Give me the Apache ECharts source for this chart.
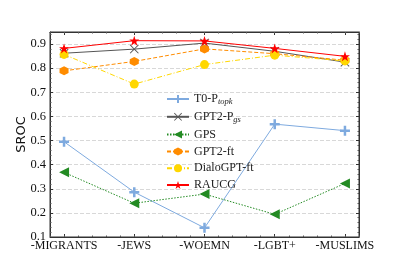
<!DOCTYPE html>
<html><head><meta charset="utf-8">
<script src="https://cdn.jsdelivr.net/npm/echarts@6/dist/echarts.min.js"></script>
<style>html,body{margin:0;padding:0;background:#fff}#c{width:399px;height:266px}</style>
</head><body><div id="c"></div>
<script>
var categories = ['-MIGRANTS', '-JEWS', '-WOEMN', '-LGBT+', '-MUSLIMS'];
var yTicks = [0.1, 0.2, 0.3, 0.4, 0.5, 0.6, 0.7, 0.8, 0.9];
var t0Ptopk = [0.495, 0.286, 0.138, 0.568, 0.541];
var gpt2Pgs = [0.862, 0.879, 0.904, 0.870, 0.825];
var gps = [0.368, 0.240, 0.278, 0.194, 0.322];
var gpt2ft = [0.789, 0.828, 0.880, 0.860, 0.833];
var dialoGPTft = [0.857, 0.734, 0.815, 0.854, 0.830];
var raucg = [0.882, 0.914, 0.913, 0.882, 0.849];

var names = ['T0-Ptopk', 'GPT2-Pgs', 'GPS', 'GPT2-ft', 'DialoGPT-ft', 'RAUCG'];
function pts(arr){ return arr.map(function(v,i){ return [i, v]; }); }

var plusPath = 'path://M3,0H5V3H8V5H5V8H3V5H0V3H3Z';
var xPath = 'path://M0,0.6L0.6,0L4,3.4L7.4,0L8,0.6L4.6,4L8,7.4L7.4,8L4,4.6L0.6,8L0,7.4L3.4,4Z';
var hexPath = 'path://M4,0L7.46,2L7.46,6L4,8L0.54,6L0.54,2Z';
var starPath = 'path://M50,0L61.8,35.5L99,35.5L69,57.5L80.5,93L50,71L19.5,93L31,57.5L1,35.5L38.2,35.5Z';

var serif = 'Liberation Serif';
var chart = echarts.init(document.getElementById('c'));
function mk(name, data, color, symbol, size, lineType, extra){
  var s = {
    name: name, type: 'line', data: pts(data), symbol: symbol, symbolSize: size,
    lineStyle: {color: color, width: 1, type: lineType},
    itemStyle: {color: color}, color: color, z: 3
  };
  for (var k in extra) s[k] = extra[k];
  return s;
}
function xax(pos, major){
  var a = {
    type: 'value', min: -0.2, max: 4.2, position: pos,
    axisLine: {show: major, onZero: false, lineStyle: {color: '#333'}},
    splitLine: {show: false}
  };
  if (major) {
    a.axisTick = {show: true, inside: true, length: 3, customValues: [0,1,2,3,4], lineStyle: {color: '#333'}};
  } else {
    a.interval = 0.2;
    a.axisTick = {show: true, inside: true, length: 1.5, lineStyle: {color: '#555'}};
  }
  if (major && pos === 'bottom') {
    a.axisLabel = {customValues: [0,1,2,3,4], formatter: function(v){ return categories[Math.round(v)]; },
      fontFamily: serif, fontSize: 12, color: '#111', margin: 3};
  } else {
    a.axisLabel = {show: false};
  }
  return a;
}
var option = {
  animation: false,
  grid: {left: 50, right: 40, top: 32, bottom: 29, show: true, borderColor: '#333', borderWidth: 1},
  legend: {
    orient: 'vertical', left: 161, top: 88, itemWidth: 22, itemHeight: 10, itemGap: 4.8,
    data: names,
    textStyle: {fontFamily: serif, fontSize: 12, color: '#222',
      rich: {n: {fontFamily: serif, fontSize: 12, color: '#222'},
             s: {fontFamily: serif, fontSize: 8.5, fontStyle: 'italic', color: '#222', padding: [5, 0, 0, 0]}}},
    formatter: function(n){
      if (n === 'T0-Ptopk') return '{n|T0-P}{s|topk}';
      if (n === 'GPT2-Pgs') return '{n|GPT2-P}{s|gs}';
      return '{n|' + n + '}';
    }
  },
  xAxis: [xax('bottom', true), xax('top', true), xax('bottom', false), xax('top', false)],
  yAxis: [{
    type: 'value', min: 0.1, max: 0.95, interval: 0.1, position: 'left',
    name: 'SROC', nameLocation: 'middle', nameGap: 22, nameRotate: 90, nameMoveOverlap: false,
    nameTextStyle: {fontFamily: 'DejaVu Sans', fontSize: 13, color: '#111'},
    axisLine: {show: true, onZero: false, lineStyle: {color: '#333'}},
    axisTick: {show: true, inside: true, length: 3, lineStyle: {color: '#333'}},
    minorTick: {show: true, splitNumber: 5, length: 1.5, lineStyle: {color: '#555'}},
    axisLabel: {fontFamily: serif, fontSize: 12.5, color: '#111', margin: 4,
      formatter: function(v){ var t = yTicks.filter(function(x){return Math.abs(x-v)<1e-6;}); return t.length ? t[0].toFixed(1) : ''; }},
    splitLine: {show: true, lineStyle: {color: '#d8d8d8', type: [4, 2], width: 1}}
  }, {
    type: 'value', min: 0.1, max: 0.95, interval: 0.1, position: 'right',
    axisLine: {show: true, onZero: false, lineStyle: {color: '#333'}},
    axisTick: {show: true, inside: true, length: 3, lineStyle: {color: '#333'}},
    minorTick: {show: true, splitNumber: 5, length: 1.5, lineStyle: {color: '#555'}},
    axisLabel: {show: false}, splitLine: {show: false}
  }],
  series: [
    mk('T0-Ptopk', t0Ptopk, '#7eaadf', plusPath, 10, 'solid', {}),
    mk('GPT2-Pgs', gpt2Pgs, '#555555', xPath, 9, 'solid', {}),
    mk('GPS', gps, '#238b23', 'triangle', 10, [1.5, 1.5], {symbolRotate: 90}),
    mk('GPT2-ft', gpt2ft, '#ff8c00', hexPath, 9, [4, 2], {}),
    mk('DialoGPT-ft', dialoGPTft, '#ffd700', 'circle', 9, [5, 2, 1, 2], {}),
    mk('RAUCG', raucg, '#ff0000', starPath, 10, 'solid', {})
  ]
};
chart.setOption(option);
</script></body></html>
